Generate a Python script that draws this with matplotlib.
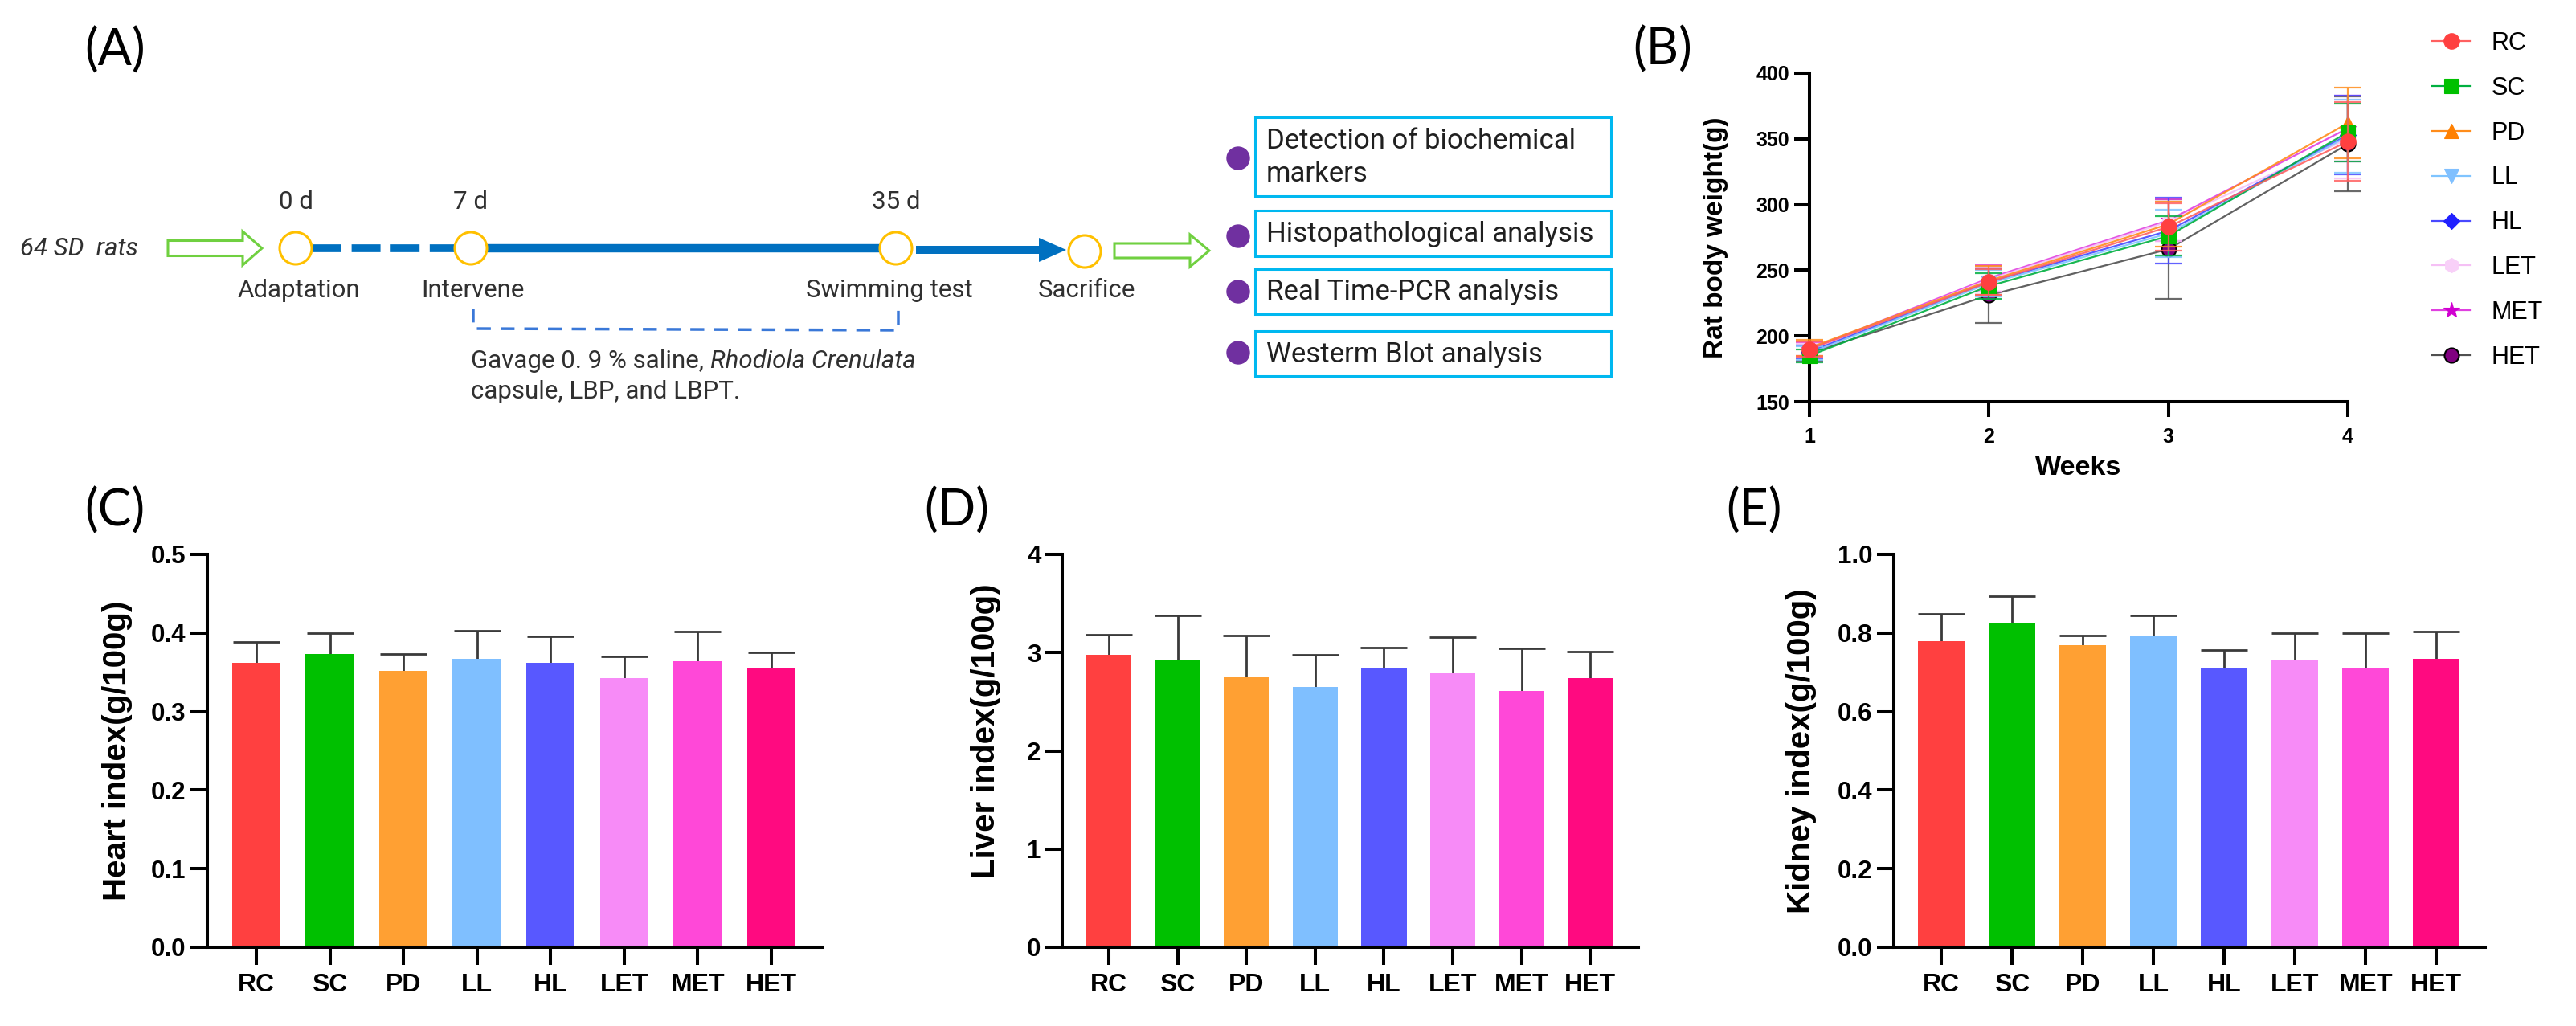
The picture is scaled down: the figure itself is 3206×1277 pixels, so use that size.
import numpy as np
import matplotlib
matplotlib.use("Agg")
import matplotlib.pyplot as plt
from matplotlib import patches
from matplotlib.lines import Line2D

# ---------------- data ----------------
groups = ["RC", "SC", "PD", "LL", "HL", "LET", "MET", "HET"]
weeks = [1, 2, 3, 4]

bw_mean = {
    "RC":  [190, 241, 283, 348],
    "SC":  [185, 238, 276, 355],
    "PD":  [191, 242, 285, 362],
    "LL":  [187, 240, 278, 352],
    "HL":  [188, 241, 280, 353],
    "LET": [189, 243, 287, 350],
    "MET": [190, 244, 288, 358],
    "HET": [187, 231, 266, 346],
}
bw_sd = {
    "RC":  [6, 10, 18, 30],
    "SC":  [5, 10, 15, 22],
    "PD":  [6, 11, 17, 27],
    "LL":  [5, 10, 18, 28],
    "HL":  [5, 10, 25, 30],
    "LET": [5, 9, 15, 30],
    "MET": [5, 10, 16, 25],
    "HET": [6, 21, 38, 36],
}

heart_mean = [0.362, 0.373, 0.352, 0.367, 0.362, 0.343, 0.364, 0.356]
heart_sd = [0.027, 0.027, 0.021, 0.036, 0.034, 0.027, 0.038, 0.019]
liver_mean = [2.98, 2.92, 2.76, 2.65, 2.85, 2.79, 2.61, 2.74]
liver_sd = [0.20, 0.46, 0.41, 0.33, 0.20, 0.37, 0.43, 0.27]
kidney_mean = [0.779, 0.824, 0.769, 0.791, 0.712, 0.730, 0.711, 0.734]
kidney_sd = [0.070, 0.070, 0.025, 0.054, 0.044, 0.070, 0.089, 0.070]

heart_ticks = [0.0, 0.1, 0.2, 0.3, 0.4, 0.5]
liver_ticks = [0, 1, 2, 3, 4]
kidney_ticks = [0.0, 0.2, 0.4, 0.6, 0.8, 1.0]
bw_ticks = [150, 200, 250, 300, 350, 400]

stage_days = ["0 d", "7 d", "35 d"]
stage_names = ["Adaptation", "Intervene", "Swimming test", "Sacrifice"]
analyses = ["Detection of biochemical\nmarkers", "Histopathological analysis",
            "Real Time-PCR analysis", "Westerm Blot analysis"]

bar_colors = ["#FF4040", "#00C000", "#FFA033", "#7FBFFF", "#5858FF",
              "#F78BF7", "#FF48D8", "#FF0A80"]
line_colors = {"RC": "#FF6060", "SC": "#00B040", "PD": "#FF8C1A", "LL": "#7FC4FF",
               "HL": "#4848FF", "LET": "#F5C0F5", "MET": "#E040E0", "HET": "#505050"}
face_colors = {"RC": "#FF4040", "SC": "#00C000", "PD": "#FF8000", "LL": "#80C0FF",
               "HL": "#2020FF", "LET": "#F8D0F8", "MET": "#D000D0", "HET": "#800080"}
edge_colors = dict(face_colors, HET="#000000")
markers = {"RC": "o", "SC": "s", "PD": "^", "LL": "v", "HL": "D",
           "LET": "h", "MET": "*", "HET": "o"}
msizes = {"RC": 14, "SC": 13, "PD": 13, "LL": 13, "HL": 10,
          "LET": 13, "MET": 15, "HET": 13}

# ---------------- figure ----------------
W, H = 3206, 1277
fig = plt.figure(figsize=(W / 100, H / 100), dpi=100)
AX_FONT = ["Liberation Sans", "DejaVu Sans"]
TL_FONT = ["Roboto", "DejaVu Sans"]
LAB_FONT = ["Lato", "DejaVu Sans"]
TL_SIZE = 22.5


def rect(l, t, r, b):
    return [l / W, 1 - b / H, (r - l) / W, (b - t) / H]


# ---------- panel A (schematic drawn in pixel space) ----------
axA = fig.add_axes([0, 0, 1, 1])
axA.set_xlim(0, W)
axA.set_ylim(H, 0)
axA.axis("off")

blue = "#0070C0"
gold = "#FFC000"
green = "#70D040"
yc = 309

axA.text(25, yc, "64 SD  rats", style="italic", fontsize=TL_SIZE, family=TL_FONT,
         va="center", ha="left", color="#303030")


def hollow_arrow(x0, x1, xh, y, bh, hh):
    pts = [(x0, y - bh / 2), (xh, y - bh / 2), (xh, y - hh / 2), (x1, y),
           (xh, y + hh / 2), (xh, y + bh / 2), (x0, y + bh / 2)]
    axA.add_patch(patches.Polygon(pts, closed=True, fill=False, edgecolor=green, lw=2.2))


hollow_arrow(209, 326, 302, yc, 19, 42)
hollow_arrow(1387, 1505, 1481, 312, 18, 40)

axA.plot([389, 565], [yc, yc], color=blue, lw=7, dashes=(3.7, 1.3), solid_capstyle="butt",
         dash_capstyle="butt")
axA.plot([607, 1094], [yc, yc], color=blue, lw=7.5, solid_capstyle="butt")
axA.add_patch(patches.FancyArrow(1140, 311, 187, 0, width=10, head_width=30, head_length=34,
                                 length_includes_head=True, color=blue, lw=0))

circle_x = [368, 586, 1115, 1350]
circle_y = [yc, yc, yc, 313]
for cx, cy in zip(circle_x, circle_y):
    axA.add_patch(patches.Circle((cx, cy), 20, facecolor="white", edgecolor=gold, lw=2.2, zorder=3))

for cx, lab in zip(circle_x[:3], stage_days):
    axA.text(cx, 252, lab, fontsize=TL_SIZE, family=TL_FONT, ha="center", va="center",
             color="#303030")
name_x = [372, 588, 1107, 1352]
for nx, lab in zip(name_x, stage_names):
    axA.text(nx, 362, lab, fontsize=TL_SIZE, family=TL_FONT, ha="center",
             va="center", color="#303030")

axA.plot([589, 589, 1118, 1118], [384, 409, 411, 386], color="#3A78D8", lw=2.5,
         dashes=(5, 3.5))

t1 = axA.text(586, 450, "Gavage 0. 9 % saline, ", fontsize=TL_SIZE, family=TL_FONT,
              ha="left", va="center", color="#303030")
axA.annotate("Rhodiola Crenulata", xy=(1, 0), xycoords=t1, fontsize=TL_SIZE,
             family=TL_FONT, style="italic", ha="left", va="bottom", color="#303030")
axA.text(586, 488, "capsule, LBP, and LBPT.", fontsize=TL_SIZE, family=TL_FONT,
         ha="left", va="center", color="#303030")

box_tb = [(146, 244), (262, 319), (335, 391), (412, 468)]
dot_y = [197, 294, 363, 439]
for (bt, bb), dy, txt in zip(box_tb, dot_y, analyses):
    axA.add_patch(patches.Rectangle((1562, bt), 443, bb - bt, fill=False,
                                    edgecolor="#00B8F0", lw=2.2))
    axA.add_patch(patches.Circle((1541, dy), 14, color="#7030A0"))
    axA.text(1576, (bt + bb) / 2 + 1, txt, fontsize=25, family=TL_FONT,
             ha="left", va="center", color="#202020", linespacing=1.3)

for lab, x, y in [("(A)", 105, 63), ("(B)", 2032, 62), ("(C)", 105, 636),
                  ("(D)", 1150, 636), ("(E)", 2148, 636)]:
    axA.text(x, y, lab, fontsize=45, family=LAB_FONT, ha="left", va="center",
             color="black")


def style_axes(ax, tick_len):
    for s in ("top", "right"):
        ax.spines[s].set_visible(False)
    for s in ("left", "bottom"):
        ax.spines[s].set_linewidth(2.9)
    ax.tick_params(axis="both", direction="out", length=tick_len, width=2.9, color="black")


# ---------- panel B ----------
axB = fig.add_axes(rect(2252, 91, 2922, 500))
style_axes(axB, 14)
order = groups[::-1]
for k, g in enumerate(order):
    z = 3 + k
    axB.errorbar(weeks, bw_mean[g], yerr=bw_sd[g], fmt="none", ecolor=line_colors[g],
                 elinewidth=1.6, capsize=12, capthick=1.6, alpha=0.85, zorder=z, clip_on=False)
    axB.plot(weeks, bw_mean[g], color=line_colors[g], lw=1.6, alpha=0.9, zorder=z + 0.1,
             clip_on=False)
    axB.plot(weeks, bw_mean[g], ls="none", marker=markers[g], ms=msizes[g],
             mfc=face_colors[g], mec=edge_colors[g], mew=1.5 if g == "HET" else 0.8,
             zorder=z + 0.2, clip_on=False)
axB.set_xlim(1, 4)
axB.set_ylim(150, 400)
axB.set_xticks(weeks)
axB.set_yticks(bw_ticks)
axB.tick_params(axis="x", pad=9)
axB.tick_params(axis="y", pad=4)
for lbl in axB.get_xticklabels() + axB.get_yticklabels():
    lbl.set_fontfamily(AX_FONT)
    lbl.set_fontweight("bold")
    lbl.set_fontsize(18)
axB.set_xlabel("Weeks", fontsize=24.5, fontweight="bold", family=AX_FONT)
axB.xaxis.set_label_coords(0.5, -0.165)
axB.set_ylabel("Rat body weight(g)", fontsize=24, fontweight="bold", family=AX_FONT)
axB.yaxis.set_label_coords(-0.151, 0.5)

handles = [Line2D([0], [0], color=line_colors[g], lw=1.6, marker=markers[g], ms=msizes[g],
                  mfc=face_colors[g], mec=edge_colors[g], mew=1.5 if g == "HET" else 0.8)
           for g in groups]
fig.legend(handles, groups, loc="upper left", bbox_to_anchor=(3027 / W, 1 - 39 / H),
           frameon=False, handlelength=1.54, handletextpad=0.88,
           labelspacing=0.845, borderpad=0, borderaxespad=0,
           prop={"family": AX_FONT, "size": 22})


# ---------- bar panels ----------
def bar_panel(r, means, sds, ticks, ylim, ylabel, xlim, label_x, label_y):
    ax = fig.add_axes(rect(*r))
    style_axes(ax, 15)
    x = np.arange(len(groups))
    ax.bar(x, means, width=0.66, color=bar_colors, zorder=2)
    _, caps, _ = ax.errorbar(x, means, yerr=[np.zeros(len(sds)), sds], fmt="none",
                             ecolor="#3A3A3A", elinewidth=2.0, capsize=21, capthick=2.0,
                             zorder=1)
    caps[0].set_visible(False)
    ax.set_xlim(*xlim)
    ax.set_ylim(*ylim)
    ax.set_xticks(x)
    ax.set_xticklabels(groups)
    ax.set_yticks(ticks)
    ax.tick_params(axis="x", length=16, pad=7)
    ax.tick_params(axis="y", pad=4)
    for lbl in ax.get_xticklabels():
        lbl.set_fontfamily(AX_FONT)
        lbl.set_fontweight("bold")
        lbl.set_fontsize(23)
    ax.set_ylabel(ylabel, fontsize=29, fontweight="bold", family=AX_FONT)
    ax.yaxis.set_label_coords(label_x, label_y)
    return ax


axC = bar_panel((258, 690, 1023, 1179), heart_mean, heart_sd, heart_ticks, (0, 0.5),
                "Heart index(g/100g)", (-0.666, 7.688), -0.122, 0.5)
axC.set_yticklabels([f"{t:.1f}" for t in heart_ticks])
axD = bar_panel((1322, 690, 2039, 1179), liver_mean, liver_sd, liver_ticks, (0, 4),
                "Liver index(g/100g)", (-0.678, 7.70), -0.106, 0.55)
axE = bar_panel((2357, 690, 3093, 1179), kidney_mean, kidney_sd, kidney_ticks, (0, 1.0),
                "Kidney index(g/100g)", (-0.67, 7.69), -0.130, 0.5)
axE.set_yticklabels([f"{t:.1f}" for t in kidney_ticks])
for ax in (axC, axD, axE):
    for lbl in ax.get_yticklabels():
        lbl.set_fontfamily(AX_FONT)
        lbl.set_fontweight("bold")
        lbl.set_fontsize(22.5)

fig.savefig("out.png", dpi=100)
